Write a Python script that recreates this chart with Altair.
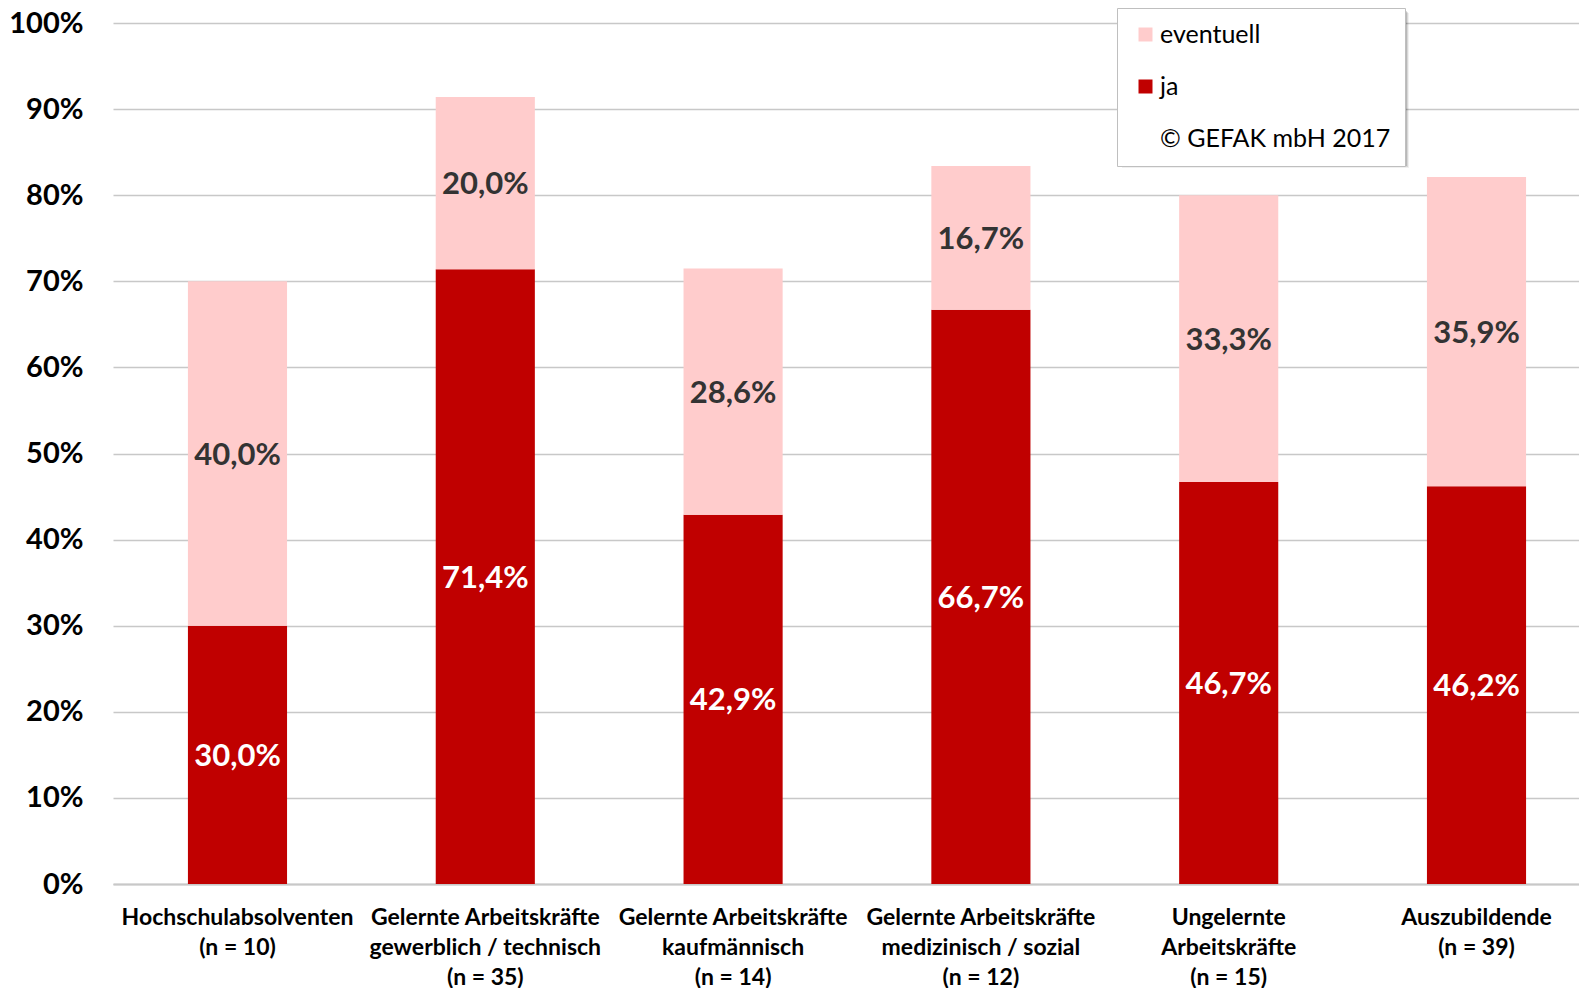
import altair as alt
import pandas as pd

# ---- data -------------------------------------------------------------
categories = [
    "Hochschulabsolventen|(n = 10)",
    "Gelernte Arbeitskräfte|gewerblich / technisch|(n = 35)",
    "Gelernte Arbeitskräfte|kaufmännisch|(n = 14)",
    "Gelernte Arbeitskräfte|medizinisch / sozial|(n = 12)",
    "Ungelernte|Arbeitskräfte|(n = 15)",
    "Auszubildende|(n = 39)",
]
ja = [30.0, 71.4, 42.9, 66.7, 46.7, 46.2]
eventuell = [40.0, 20.0, 28.6, 16.7, 33.3, 35.9]
series = ["eventuell", "ja"]
series_colors = ["#FFCCCC", "#C00000"]
legend_note = "© GEFAK mbH 2017"
y_ticks = [0, 0.1, 0.2, 0.3, 0.4, 0.5, 0.6, 0.7, 0.8, 0.9, 1.0]


def fmt(v):
    return f"{v:.1f}".replace(".", ",") + "%"


rows = []
for c, j, e in zip(categories, ja, eventuell):
    rows.append(dict(cat=c, serie="ja", value=j / 100, ord=0,
                     mid=j / 200, label=fmt(j)))
    rows.append(dict(cat=c, serie="eventuell", value=e / 100, ord=1,
                     mid=(j + e / 2) / 100, label=fmt(e)))
df = pd.DataFrame(rows)

FONT = "Lato"

# legend box placement (plot-area pixels) and its drop shadow
LEG_X, LEG_Y = 1004, -15
LEG_W, LEG_H = 287, 155

x_enc = alt.X(
    "cat:N",
    sort=categories,
    scale=alt.Scale(paddingInner=0.6, paddingOuter=0.258, align=0.586),
    axis=alt.Axis(
        title=None,
        labelExpr="split(datum.label, '|')",
        labelFont=FONT,
        labelFontWeight="bold",
        labelFontSize=23,
        labelColor="black",
        labelLineHeight=30,
        labelPadding=22,
        labelLimit=400,
        labelAngle=0,
        ticks=False,
        domainColor="#C8C8C8",
        domainWidth=2,
        grid=False,
    ),
)

bars = alt.Chart(df).mark_bar().encode(
    x=x_enc,
    y=alt.Y(
        "value:Q",
        stack="zero",
        scale=alt.Scale(domain=[0, 1], nice=False),
        axis=alt.Axis(
            title=None,
            format=".0%",
            values=y_ticks,
            labelFont=FONT,
            labelFontWeight="bold",
            labelFontSize=29,
            labelColor="black",
            labelPadding=30,
            ticks=False,
            domain=False,
            gridColor="#C8C8C8",
            gridWidth=1.5,
        ),
    ),
    color=alt.Color(
        "serie:N",
        scale=alt.Scale(domain=series + [legend_note],
                        range=series_colors + ["rgba(0,0,0,0)"]),
        legend=alt.Legend(
            title=None,
            orient="none",
            legendX=LEG_X,
            legendY=LEG_Y,
            direction="vertical",
            fillColor="white",
            strokeColor="#BFBFBF",
            padding=14,
            symbolType="square",
            symbolSize=196,
            symbolStrokeWidth=0,
            symbolOffset=2,
            labelFont=FONT,
            labelFontSize=25,
            labelColor="black",
            labelOffset=2,
            labelLimit=400,
            rowPadding=26,
        ),
    ),
    order=alt.Order("ord:Q", sort="ascending"),
)

text = alt.Chart(df).mark_text(
    font=FONT, fontWeight="bold", fontSize=31, baseline="middle", dy=2
).encode(
    x=alt.X("cat:N", sort=categories),
    y=alt.Y("mid:Q"),
    text="label:N",
    color=alt.when(alt.datum.serie == "ja")
    .then(alt.value("white"))
    .otherwise(alt.value("#333333")),
)

shadow_src = pd.DataFrame({"k": [0]})
shadows = [
    alt.Chart(shadow_src).mark_rect(color="#000000", opacity=op).encode(
        x=alt.value(LEG_X + off), x2=alt.value(LEG_X + LEG_W + off),
        y=alt.value(LEG_Y + off), y2=alt.value(LEG_Y + LEG_H + off),
    )
    for off, op in [(5, 0.06), (4, 0.1), (3, 0.14), (2, 0.14)]
]

chart = (
    alt.layer(bars, text, *shadows)
    .properties(
        width=1466,
        height=861,
        autosize=alt.AutoSizeParams(type="none"),
        padding={"left": 105, "top": 15, "right": 0, "bottom": 104},
    )
    .configure_view(stroke=None)
)

chart.save("out.html", embed_options={"renderer": "svg", "actions": False})
